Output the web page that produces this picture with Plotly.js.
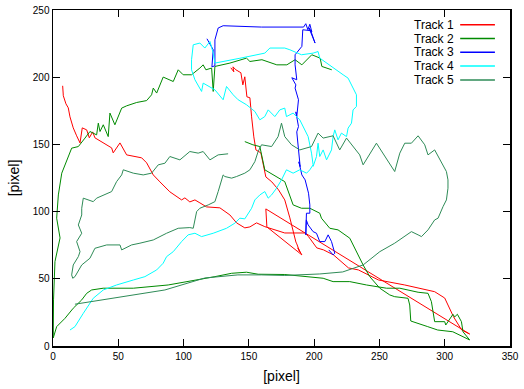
<!DOCTYPE html>
<html>
<head>
<meta charset="utf-8">
<script src="https://cdn.plot.ly/plotly-3.0.1.min.js"></script>
<style>html,body{margin:0;padding:0;background:#fff;}#chart{width:524px;height:389px;}</style>
</head>
<body>
<div id="chart"></div>
<script>
const trackNames = ["Track 1", "Track 2", "Track 3", "Track 4", "Track 5"];
const trackColors = ["#ff0000", "#008a00", "#0000ff", "#00ffff", "#2e8b57"];

const t1x = [7.4,7.9,9.9,11.7,13.0,15.5,18.1,20.7,22.4,25.8,27.8,30.4,32.1,34.7,38.5,44.9,46.1,51.3,56.4,62.8,67.9,71.7,76.8,81.9,89.5,98.5,101.0,104.8,108.7,112.5,117.6,127.8,135.5,140.6,146.9,150.8,155.9,162.2,169.9,177.5,192.9,195.7,202.0,207.2,214.8,226.3,233.9,249.3,269.4,292.3,300.0,306.7,313.0,319.1,
  163.0,163.8,190.6,187.5,189.0,186.7,186.0,181.4,177.5,172.7,167.6,163.0,160.0,159.2,155.4,153.8,152.1,150.8,148.5,146.9,145.4,143.9,140.1,137.8,138.5,136.2];
const t1y = [193.6,186.2,180.2,177.2,170.5,162.3,156.4,151.1,162.3,160.8,154.9,159.3,154.9,153.4,151.1,147.4,143.7,151.1,142.2,140.7,140.0,136.3,127.3,122.1,114.7,108.7,110.2,107.2,108.7,106.5,103.5,102.8,97.5,91.6,87.9,88.6,91.6,88.8,86.4,84.1,84.1,81.4,73.0,71.5,67.8,58.1,56.6,49.1,45.4,40.4,35.7,21.8,11.9,8.9,
  102.0,88.6,67.8,73.0,70.0,76.0,77.4,95.3,108.7,116.2,122.1,125.8,138.5,143.7,145.9,155.6,170.5,184.7,185.4,200.3,194.3,203.3,205.5,207.7,204.0,207.0];

const t2x = [213.5,209.7,205.9,204.6,198.2,190.6,185.4,179.1,171.4,160.0,150.8,148.2,135.5,124.0,122.7,121.5,117.1,115.0,112.5,106.1,99.7,95.9,92.1,84.4,79.4,76.8,75.5,71.7,64.1,56.4,52.6,47.4,43.6,42.3,38.5,36.0,34.7,33.4,28.3,24.5,19.4,14.3,10.5,6.7,4.1,2.8,5.4,1.5,0.4,0.2,
  2.8,5.4,9.2,15.5,22.0,25.8,29.6,38.5,61.5,88.2,111.2,124.0,136.8,148.2,157.1,177.5,206.9,214.5,227.3,240.1,255.4,265.6,279.6,287.2,289.8,292.3,300.0,300.8,306.3,307.6,309.7,312.8,314.0,319.1,
  306.2,294.6,287.0,274.0,273.2,271.9,261.7,257.9,250.3,242.6,237.5,232.4,227.3,218.3,212.0,205.6,204.3,196.7,190.3,183.9,177.5,162.2,159.7,158.4,153.1,146.9];
const t2y = [205.5,206.8,208.0,214.2,216.7,209.2,213.0,209.2,209.2,213.0,211.7,214.2,210.5,208.0,189.4,206.8,205.5,209.2,206.8,201.8,201.8,205.5,196.8,200.1,188.2,191.9,186.9,182.6,181.2,178.7,177.0,164.6,173.3,155.8,164.6,159.6,165.8,157.1,159.6,154.7,148.4,147.2,138.5,128.6,112.4,95.1,80.4,62.8,34.3,6.0,
  14.4,16.9,20.6,28.1,34.3,39.2,41.7,43.0,43.0,45.4,49.1,51.6,54.1,54.9,53.4,53.2,50.4,47.9,47.9,45.4,43.0,43.0,40.0,39.2,33.0,18.1,18.1,15.6,23.6,21.6,23.6,18.1,10.6,4.5,
  10.6,11.9,14.4,18.6,30.5,35.5,36.7,38.0,43.0,51.6,60.3,70.2,80.2,86.4,87.6,95.1,98.8,102.5,102.5,105.0,122.3,131.1,141.0,148.4,149.7,152.1];

const t3x = [117.9,122.7,121.7,124.0,124.0,126.5,130.3,143.1,159.7,191.9,193.6,195.2,196.7,198.2,196.0,200.7,197.4,191.3,190.6,185.4,185.4,186.7,182.9,186.0,185.4,188.0,186.7,186.0,188.0,186.7,188.0,189.3,188.3,190.6,193.1,195.7,196.7,196.7,194.1,193.6,194.0,195.4,199.2,201.8,204.3,208.2,210.7,213.3,215.8,214.5,211.2];
const t3y = [228.6,220.4,207.7,208.5,227.8,236.6,238.3,237.9,237.3,237.3,239.8,235.3,239.4,233.8,236.8,225.4,234.6,235.3,222.9,216.7,209.2,198.1,199.6,194.3,191.9,183.2,170.7,174.2,163.3,159.3,148.4,133.5,137.0,127.3,123.6,113.7,105.0,98.8,98.8,82.7,93.8,90.1,85.1,83.9,77.7,77.7,82.7,77.7,69.0,67.8,71.5];

const t4x = [13.0,16.8,23.2,30.8,38.5,48.7,61.5,70.4,79.4,84.4,87.0,92.1,98.5,103.5,108.7,113.8,122.7,132.9,139.3,143.1,146.9,152.1,154.6,158.4,162.2,164.8,167.4,171.2,175.0,178.8,183.9,189.0,194.2,196.7,199.2,198.0,195.4,191.6,189.0,183.9,178.8,177.5,173.7,169.9,164.8,162.2,158.4,154.6,148.2,141.8,138.0,132.9,130.3,124.0,118.9,115.0,113.8,108.7,106.1,106.1,107.4,112.5,116.3,120.2,122.7,124.0,143.1,162.2,166.1,177.5,181.4,190.3,199.2,203.0,204.3,214.5,222.2,226.0,227.3,229.8,232.4,232.4,229.8,228.6,226.0,224.8,220.9,218.3,215.8,214.5,213.3,209.5,206.9,204.3,203.0,201.8,199.2];
const t4y = [11.9,14.4,24.3,35.5,41.7,45.4,49.1,51.6,56.6,61.6,66.5,70.2,77.7,82.7,83.9,81.4,83.9,87.6,91.4,95.1,94.6,102.5,108.7,112.4,114.9,110.0,112.4,117.4,123.6,131.1,128.6,131.1,128.6,131.1,134.8,143.5,155.8,163.3,168.3,173.3,170.7,177.0,175.7,170.7,175.7,170.7,168.3,174.5,179.5,183.2,186.9,193.1,183.2,190.6,193.1,195.6,189.4,198.1,205.5,213.0,224.1,225.4,221.7,226.6,217.9,210.5,214.1,217.9,221.7,221.7,220.4,216.7,217.9,219.1,214.2,206.8,201.8,199.3,196.8,193.1,186.9,178.2,175.7,165.8,162.1,155.8,158.4,153.4,160.8,155.8,145.9,138.5,145.9,141.0,150.9,141.0,133.5];

const t5x = [134.1,126.5,120.2,115.0,111.2,104.8,97.2,89.5,85.7,80.6,75.5,69.1,61.5,53.8,52.6,48.7,44.9,38.5,33.4,30.8,23.2,22.0,22.0,19.4,22.0,18.1,20.7,19.4,15.5,14.3,15.1,16.8,22.0,28.3,32.1,41.1,51.3,52.6,60.2,66.6,76.8,87.0,95.9,104.8,107.4,110.0,112.5,118.9,124.0,126.5,130.3,131.6,136.8,140.6,143.1,146.9,150.8,154.6,157.1,159.7,167.4,172.4,175.0,177.5,182.7,189.0,198.0,203.0,206.9,214.5,219.6,224.8,234.9,237.5,247.7,257.9,261.7,265.6,269.4,274.5,279.6,284.7,287.2,292.3,294.9,298.7,301.3,302.5,302.5,301.3,298.7,294.9,292.3,287.2,282.2,279.6,274.5,261.7,250.3,237.5,221.9,204.3,177.5,159.7,141.6,116.3,85.7,16.8];
const t5y = [143.0,142.2,138.5,144.7,143.5,144.7,138.5,141.0,136.0,134.8,128.6,127.3,128.6,131.1,127.3,122.3,114.9,112.4,110.0,107.4,110.0,102.5,97.5,90.1,83.9,77.7,70.2,66.5,60.3,52.9,50.4,51.6,60.3,65.3,72.7,75.2,75.2,71.5,75.2,76.5,78.9,83.9,87.6,88.1,87.6,100.0,102.5,105.0,107.4,114.9,127.3,126.1,124.9,126.1,127.3,128.6,131.1,137.2,144.7,149.7,148.4,155.8,165.8,155.8,149.7,145.9,148.4,158.4,154.7,156.4,145.9,154.7,142.2,134.8,150.9,136.0,129.8,143.5,150.9,150.9,156.4,149.7,142.2,145.9,141.0,133.5,129.8,123.6,117.4,108.7,103.7,95.1,93.8,86.4,81.4,82.7,85.1,76.5,70.2,60.3,55.1,53.6,52.5,52.9,52.9,50.6,41.7,31.1];

const xs = [t1x, t2x, t3x, t4x, t5x];
const ys = [t1y, t2y, t3y, t4y, t5y];

const traces = xs.map((x, i) => ({
  x: x, y: ys[i], type: 'scatter', mode: 'lines', name: trackNames[i],
  line: {color: trackColors[i], width: 1}, showlegend: false, hoverinfo: 'skip'
}));

// gnuplot-style legend: text right-aligned, sample line to its right
const legTextX = 0.881, legLineX0 = 0.891, legLineX1 = 0.967;
const legY = [0.956, 0.915, 0.874, 0.833, 0.792];
const annotations = trackNames.map((n, i) => ({
  xref: 'paper', yref: 'paper', x: legTextX, y: legY[i], xanchor: 'right', yanchor: 'middle',
  text: n, showarrow: false, font: {family: 'Liberation Sans, Arial, sans-serif', size: 12, color: '#000'}
}));
const shapes = trackNames.map((n, i) => ({
  type: 'line', xref: 'paper', yref: 'paper', x0: legLineX0, x1: legLineX1, y0: legY[i], y1: legY[i],
  line: {color: trackColors[i], width: 1.5}
}));

const axisCommon = {
  showgrid: false, zeroline: false, showline: true, linecolor: '#000', linewidth: 1.5,
  mirror: 'allticks', ticks: 'inside', ticklen: 7, tickwidth: 1, tickcolor: '#000',
  tickfont: {family: 'Liberation Sans, Arial, sans-serif', size: 10, color: '#000'}
};

const layout = {
  width: 524, height: 389,
  margin: {l: 53, r: 14, t: 10, b: 43},
  paper_bgcolor: '#fff', plot_bgcolor: '#fff',
  showlegend: false,
  xaxis: Object.assign({}, axisCommon, {range: [0, 350], dtick: 50, tick0: 0,
    title: {text: '[pixel]', font: {family: 'Liberation Sans, Arial, sans-serif', size: 14, color: '#000'}, standoff: 10}}),
  yaxis: Object.assign({}, axisCommon, {range: [0, 250], dtick: 50, tick0: 0,
    title: {text: '[pixel]', font: {family: 'Liberation Sans, Arial, sans-serif', size: 14, color: '#000'}, standoff: 10}}),
  annotations: annotations,
  shapes: shapes
};

Plotly.newPlot('chart', traces, layout, {displayModeBar: false, staticPlot: true});
</script>
</body>
</html>
